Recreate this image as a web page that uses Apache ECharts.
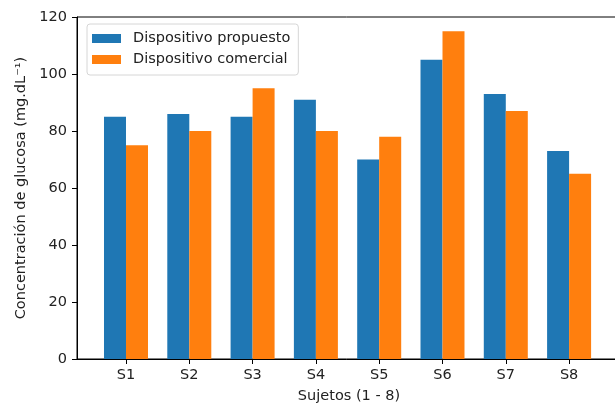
<!DOCTYPE html>
<html>
<head>
<meta charset="utf-8">
<script src="https://cdn.jsdelivr.net/npm/echarts@6/dist/echarts.min.js"></script>
<style>
  html, body { margin: 0; padding: 0; background: #fff; }
  #chart { width: 615px; height: 405px; }
</style>
</head>
<body>
<div id="chart"></div>
<script>
// Glucose readings per subject, two devices
const subjects = ['S1', 'S2', 'S3', 'S4', 'S5', 'S6', 'S7', 'S8'];
const proposedDevice = [85, 86, 85, 91, 70, 105, 93, 73];
const commercialDevice = [75, 80, 95, 80, 78, 115, 87, 65];
const yTicks = [0, 20, 40, 60, 80, 100, 120];

const FONT = 'DejaVu Sans';
const FS = 14.5;
const positions = subjects.map((_, i) => i);

const chart = echarts.init(document.getElementById('chart'), null, { renderer: 'canvas' });

chart.setOption({
  animation: false,
  backgroundColor: '#ffffff',
  grid: {
    left: 77, right: -6, top: 17, bottom: 46,
    outerBoundsMode: 'none',
    containLabel: false,
    show: true, borderColor: '#000', borderWidth: 1, backgroundColor: 'transparent'
  },
  legend: {
    orient: 'vertical',
    left: 87, top: 24,
    padding: [7, 8, 8, 5],
    itemGap: 6,
    itemWidth: 29, itemHeight: 9,
    backgroundColor: '#fff',
    borderColor: '#d6d6d6', borderWidth: 1, borderRadius: 3,
    icon: 'rect',
    textStyle: { fontFamily: FONT, fontSize: FS, color: '#222', padding: [0, 0, 0, 7], lineHeight: 15 },
    data: ['Dispositivo propuesto', 'Dispositivo comercial']
  },
  xAxis: {
    type: 'value',
    min: -0.774, max: 7.82,
    name: 'Sujetos (1 - 8)',
    nameLocation: 'middle', nameGap: 30,
    nameTextStyle: { fontFamily: FONT, fontSize: FS, color: '#222' },
    axisLine: { show: true, onZero: false, lineStyle: { color: '#000', width: 1 } },
    axisTick: { show: true, customValues: positions, length: 5, lineStyle: { color: '#000' } },
    axisLabel: {
      customValues: positions, margin: 9,
      fontFamily: FONT, fontSize: FS, color: '#222',
      formatter: v => subjects[Math.round(v)]
    },
    splitLine: { show: false }
  },
  yAxis: {
    type: 'value',
    min: 0, max: 120, interval: 20,
    name: 'Concentración de glucosa (mg.dL⁻¹)',
    nameLocation: 'middle', nameGap: 48, nameRotate: 90,
    nameTextStyle: { fontFamily: FONT, fontSize: FS, color: '#222' },
    axisLine: { show: true, onZero: false, lineStyle: { color: '#000', width: 1 } },
    axisTick: { show: true, length: 5, lineStyle: { color: '#000' } },
    axisLabel: {
      margin: 10, fontFamily: FONT, fontSize: FS, color: '#222',
      formatter: v => (yTicks.includes(v) ? String(v) : '')
    },
    splitLine: { show: false }
  },
  series: [
    {
      name: 'Dispositivo propuesto',
      type: 'bar',
      barWidth: 22,
      barGap: '0%',
      itemStyle: { color: '#1f77b4' },
      data: proposedDevice.map((v, i) => [positions[i], v])
    },
    {
      name: 'Dispositivo comercial',
      type: 'bar',
      barWidth: 22,
      barGap: '0%',
      itemStyle: { color: '#ff7f0e' },
      data: commercialDevice.map((v, i) => [positions[i], v])
    }
  ]
});
</script>
</body>
</html>
